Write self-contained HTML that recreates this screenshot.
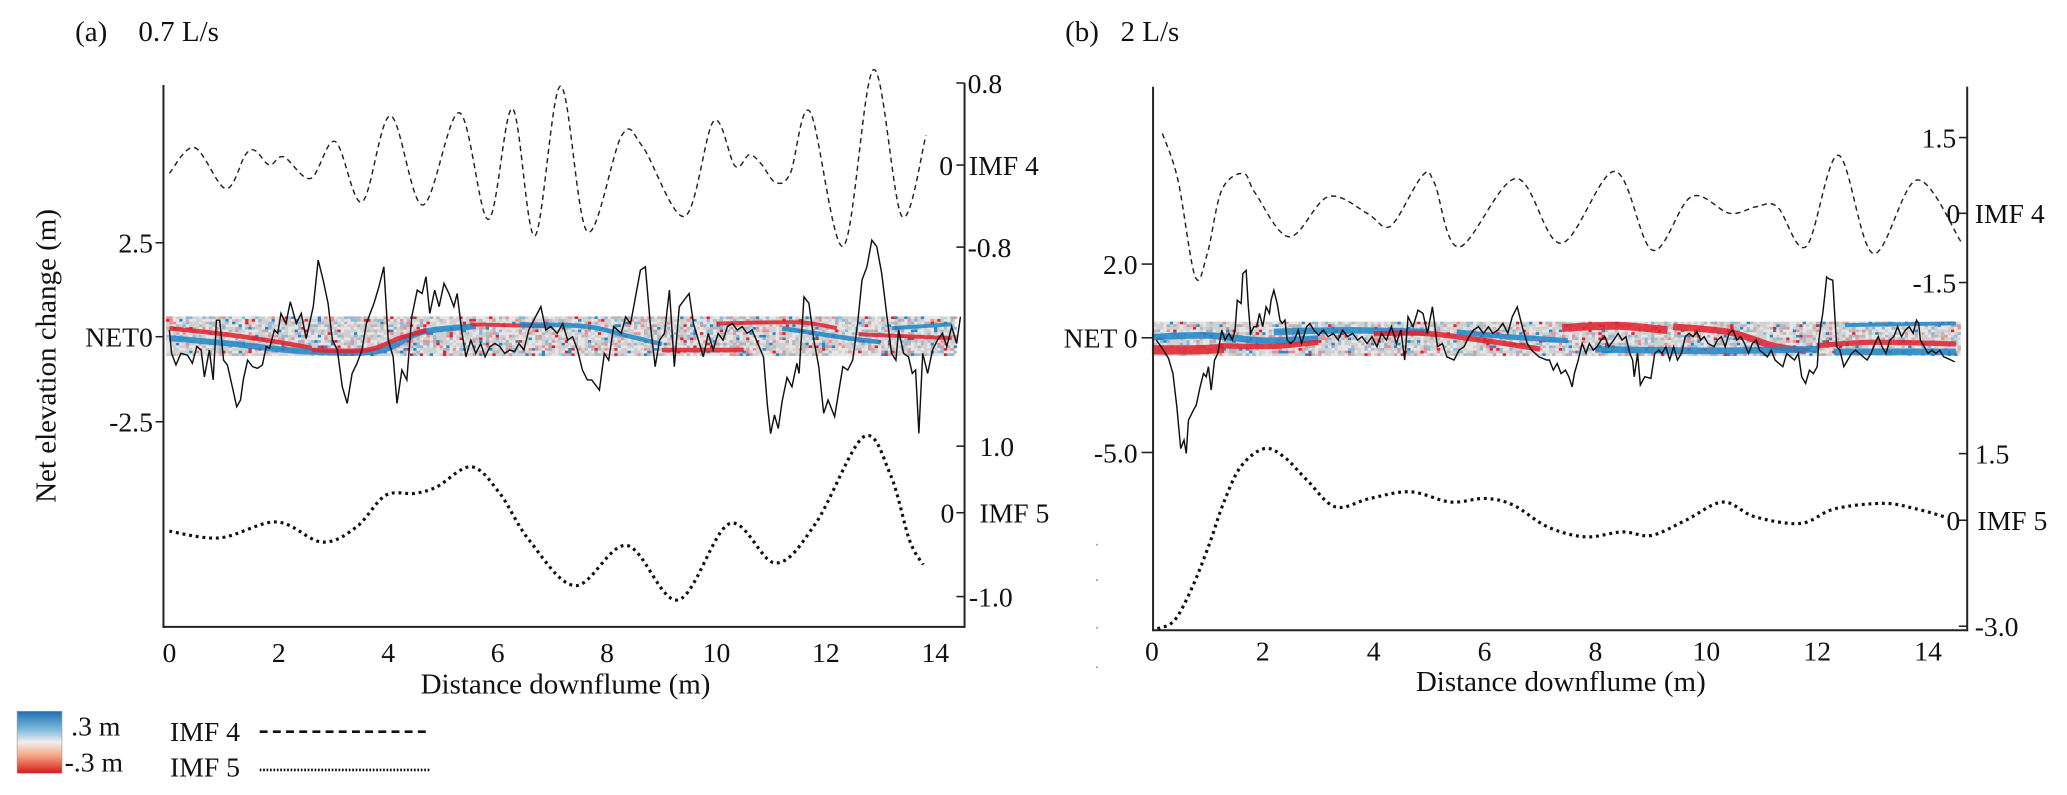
<!DOCTYPE html>
<html><head><meta charset="utf-8"><style>
html,body{margin:0;padding:0;background:#fff;}
svg{display:block;}
text{font-family:"Liberation Serif",serif;fill:#111;}
</style></head><body>
<svg id="chart" xmlns="http://www.w3.org/2000/svg" width="2067" height="795" viewBox="0 0 1568 603" preserveAspectRatio="none">
<defs>
<linearGradient id="cbar" x1="0" y1="0" x2="0" y2="1">
<stop offset="0" stop-color="#1f6fb4"/><stop offset="0.3" stop-color="#7fbcdc"/><stop offset="0.5" stop-color="#f2eeee"/><stop offset="0.72" stop-color="#f4a582"/><stop offset="1" stop-color="#d7191c"/>
</linearGradient>
</defs>
<g id="panelA">
<text x="57" y="31" font-size="22">(a)</text>
<text x="105" y="31" font-size="22">0.7 L/s</text>
<text transform="translate(42,270) rotate(-90)" text-anchor="middle" font-size="22">Net elevation change (m)</text>
<text x="429" y="526" text-anchor="middle" font-size="22">Distance downflume (m)</text>
</g>
<g id="panelB">
<text x="808" y="31" font-size="22">(b)</text>
<text x="850" y="31" font-size="22">2 L/s</text>
<text x="1184" y="524" text-anchor="middle" font-size="22">Distance downflume (m)</text>
</g>
<g id="legend">
<rect x="13" y="539.5" width="34" height="47" fill="url(#cbar)" stroke="#999" stroke-width="0.5"/>
<text x="54" y="558" font-size="21">.3 m</text>
<text x="49" y="585" font-size="21">-.3 m</text>
<text x="129" y="562" font-size="21">IMF 4</text>
<line x1="197" y1="555" x2="326" y2="555" stroke="#111" stroke-width="2" stroke-dasharray="6,4"/>
<text x="129" y="589" font-size="21">IMF 5</text>
<line x1="197" y1="584" x2="326" y2="584" stroke="#111" stroke-width="2" stroke-dasharray="1.3,1.3"/>
</g>
<g fill="#888">
<rect x="831.5" y="412.5" width="1.2" height="1.2"/><rect x="831.5" y="439.5" width="1.2" height="1.2"/><rect x="831.5" y="475.5" width="1.2" height="1.2"/><rect x="831.5" y="505.5" width="1.2" height="1.2"/>
</g>
</svg>
<script>
// ---------- Panel A data ----------
const xTicksA = [0,2,4,6,8,10,12,14];
const netTicksA = [2.5, 0, -2.5];
const netTickLabelsA = ["2.5","NET0","-2.5"];
const imf4TicksA = [0.8, 0, -0.8];
const imf4TickLabelsA = ["0.8","0","-0.8"];
const imf5TicksA = [1.0, 0, -1.0];
const imf5TickLabelsA = ["1.0","0","-1.0"];
const netADist = [0,0.04,0.12,0.21,0.33,0.42,0.50,0.58,0.64,0.73,0.80,0.86,0.92,0.99,1.06,1.15,1.23,1.30,1.35,1.43,1.52,1.61,1.70,1.77,1.83,1.92,1.98,2.04,2.13,2.21,2.32,2.41,2.50,2.63,2.72,2.81,2.90,2.98,3.07,3.16,3.25,3.34,3.43,3.52,3.60,3.74,3.83,3.92,4.00,4.09,4.16,4.25,4.34,4.43,4.53,4.62,4.69,4.76,4.85,4.93,5.02,5.11,5.20,5.26,5.35,5.42,5.51,5.60,5.69,5.77,5.86,5.95,6.04,6.13,6.22,6.31,6.39,6.48,6.57,6.66,6.79,6.88,6.97,7.09,7.19,7.28,7.37,7.46,7.55,7.64,7.72,7.86,7.95,8.03,8.12,8.26,8.34,8.43,8.52,8.61,8.70,8.79,8.88,8.96,9.05,9.14,9.23,9.32,9.41,9.50,9.58,9.67,9.76,9.85,9.94,10.03,10.12,10.20,10.29,10.38,10.47,10.56,10.65,10.78,10.86,10.93,10.99,11.06,11.13,11.20,11.29,11.38,11.47,11.51,11.60,11.69,11.78,11.87,11.96,12.04,12.16,12.22,12.31,12.40,12.49,12.58,12.66,12.75,12.84,12.93,13.02,13.11,13.20,13.28,13.33,13.42,13.51,13.58,13.64,13.70,13.77,13.86,13.95,14.04,14.13,14.21,14.30,14.39,14.46];
const netAVal = [0.18,-0.49,-0.83,-0.49,-0.54,-0.78,-0.29,-0.39,-1.18,-0.39,-1.27,0.44,0.44,-0.69,-0.83,-1.47,-2.06,-1.86,-1.27,-0.69,-0.88,-0.93,-0.83,-0.29,-0.34,0.18,0.09,0.62,0.35,0.93,0.35,0.62,-0.05,0.80,2.04,1.51,0.89,-0.10,-0.39,-1.47,-1.96,-1.08,-0.78,-0.39,0.35,0.89,1.33,1.86,-0.10,-0.59,-1.96,-0.98,-1.27,0.53,1.24,1.15,1.60,0.62,1.24,0.80,1.42,1.15,0.80,1.15,0.09,-0.59,-0.10,-0.49,-0.20,-0.59,-0.29,-0.20,-0.29,-0.49,-0.39,-0.44,-0.20,-0.39,0.18,0.44,0.80,0.18,0.27,0.09,0.35,-0.10,0.0,-0.39,-0.98,-1.27,-1.27,-1.57,-0.49,-0.69,0.27,0.09,0.53,0.35,1.06,1.77,1.86,0.35,-0.88,-0.10,0.09,1.24,-0.88,0.80,0.98,1.15,0.35,-0.10,-0.59,0.09,-0.39,0.09,-0.10,0.27,0.35,0.18,0.27,0.09,0.18,-0.29,-0.6,-2.0,-2.85,-2.3,-2.7,-1.9,-1.2,-1.47,-0.78,-1.08,1.06,0.89,-0.10,-0.88,-2.25,-1.86,-2.35,-1.76,-0.88,-0.98,-0.69,0.35,1.51,1.86,2.57,2.40,1.69,0.62,-0.49,-0.69,0.18,-0.49,-0.59,-1.08,-0.98,-2.84,-0.49,-1.08,-0.39,-0.10,0.09,-0.29,0.27,-0.20,0.53];
const imf4ADist = [0,0.46,1.03,1.39,1.57,1.83,2.09,2.58,3.03,3.52,4.04,4.63,5.30,5.83,6.27,6.68,7.15,7.64,8.27,8.65,9.42,9.95,10.34,10.60,10.82,11.08,11.35,11.71,12.32,12.87,13.39,13.83];
const imf4AVal = [-0.08,0.17,-0.23,0.10,0.14,0.0,0.08,-0.13,0.23,-0.36,0.48,-0.39,0.51,-0.53,0.55,-0.69,0.77,-0.65,0.29,0.18,-0.50,0.43,-0.01,0.10,0.01,-0.17,-0.08,0.52,-0.79,0.93,-0.50,0.29];
const imf5ADist = [0,0.92,1.96,2.79,3.42,3.95,4.48,4.89,5.52,6.04,6.58,7.42,8.36,9.30,10.24,11.08,11.81,12.69,13.18,13.53,13.78];
const imf5AVal = [-0.22,-0.30,-0.11,-0.35,-0.17,0.26,0.29,0.39,0.69,0.29,-0.33,-0.87,-0.39,-1.04,-0.13,-0.60,-0.13,1.14,0.57,-0.33,-0.62];

// ---------- Panel B data ----------
const xTicksB = [0,2,4,6,8,10,12,14];
const netTicksB = [2.0, 0, -5.0];
const netTickLabelsB = ["2.0","NET 0","-5.0"];
const imf4TicksB = [1.5, 0, -1.5];
const imf4TickLabelsB = ["1.5","0","-1.5"];
const imf5TicksB = [1.5, 0, -3.0];
const imf5TickLabelsB = ["1.5","0","-3.0"];
const netBDist = [0.08,0.21,0.30,0.38,0.45,0.52,0.58,0.62,0.66,0.75,0.80,0.87,0.93,0.98,1.02,1.07,1.13,1.19,1.26,1.32,1.39,1.45,1.50,1.54,1.61,1.64,1.70,1.74,1.78,1.84,1.89,1.94,2.00,2.06,2.12,2.15,2.20,2.26,2.31,2.35,2.40,2.44,2.50,2.57,2.64,2.70,2.79,2.85,2.92,3.01,3.09,3.18,3.27,3.36,3.44,3.53,3.62,3.71,3.79,3.88,3.97,4.06,4.14,4.23,4.32,4.41,4.49,4.56,4.62,4.71,4.80,4.89,4.97,5.06,5.15,5.24,5.32,5.45,5.54,5.63,5.72,5.80,5.89,5.98,6.07,6.15,6.24,6.33,6.42,6.50,6.59,6.68,6.77,6.85,6.98,7.12,7.17,7.24,7.31,7.38,7.46,7.52,7.58,7.62,7.69,7.76,7.83,7.89,7.96,8.03,8.10,8.17,8.24,8.31,8.41,8.48,8.55,8.62,8.67,8.70,8.76,8.81,8.89,9.00,9.07,9.14,9.20,9.27,9.34,9.41,9.48,9.55,9.62,9.69,9.76,9.83,9.90,9.96,10.03,10.14,10.20,10.27,10.34,10.41,10.48,10.55,10.62,10.69,10.76,10.83,10.90,10.96,11.03,11.10,11.17,11.24,11.31,11.38,11.45,11.52,11.59,11.66,11.72,11.79,11.86,11.93,12.00,12.03,12.07,12.10,12.14,12.17,12.20,12.28,12.35,12.41,12.48,12.55,12.62,12.69,12.76,12.83,12.90,12.97,13.04,13.10,13.17,13.24,13.31,13.38,13.45,13.52,13.59,13.66,13.73,13.79,13.83,13.86,13.93,14.00,14.07,14.14,14.21,14.28,14.35,14.41,14.48];
const netBVal = [-0.10,-0.54,-0.90,-1.56,-3.01,-4.83,-4.46,-5.04,-3.59,-3.15,-2.94,-2.14,-1.56,-1.70,-1.26,-2.28,-0.97,-0.68,0.21,-0.10,0.12,-0.10,0.21,1.02,0.93,1.74,1.83,0.84,0.12,0.30,0.30,0.66,0.30,0.84,0.66,1.02,1.29,0.93,0.48,0.39,0.48,-0.10,-0.25,-0.10,0.21,-0.25,0.30,0.39,0.21,0.07,0.21,0.03,0.12,-0.10,0.21,0.03,0.12,-0.10,0.03,-0.25,0.03,-0.39,0.12,-0.10,0.30,-0.25,0.21,-0.97,0.57,0.30,0.75,0.66,0.12,0.84,-0.39,-0.25,-0.83,-0.97,-0.54,-0.39,0.03,0.21,0.30,0.12,0.30,0.12,0.21,0.39,0.12,0.57,0.84,0.30,-0.25,-0.54,-0.83,-0.97,-0.97,-1.41,-1.12,-1.56,-1.41,-1.70,-2.14,-1.56,-0.97,-0.25,-0.68,-0.25,-0.54,-0.39,-0.10,0.03,-0.39,-0.17,0.12,-0.10,0.03,-0.68,-0.97,-1.70,-0.68,-2.06,-1.70,-1.77,-0.68,-0.54,-0.68,-0.39,-0.97,-0.39,-0.97,-0.68,0.03,0.12,0.03,0.16,-0.10,0.03,-0.25,-0.39,-0.10,0.03,-0.39,0.12,0.21,-0.10,0.03,-0.25,-0.68,-0.25,-0.10,-0.54,-0.68,-0.83,-0.54,-0.97,-1.12,-1.26,-0.68,-0.83,-0.97,-0.68,-1.70,-1.99,-1.41,-1.56,-1.26,-0.10,0.39,0.66,1.20,1.65,1.61,1.56,-0.39,-0.54,-1.26,-0.97,-0.68,-0.54,-0.68,-0.83,-0.97,-0.68,-0.25,0.03,-0.39,-0.68,-0.10,0.03,0.30,0.03,0.21,0.30,0.12,0.48,0.39,-0.10,-0.39,-0.68,-0.54,-0.68,-0.54,-0.83,-0.90,-0.97,-1.05];
const imf4BDist = [0.19,0.47,0.78,1.00,1.26,1.65,1.87,2.48,3.18,3.88,4.19,4.40,4.89,5.10,5.54,6.57,7.38,8.35,9.03,9.73,10.42,10.90,11.28,11.80,12.38,13.01,13.80,14.59];
const imf4BVal = [1.58,0.66,-1.37,-0.87,0.46,0.79,0.39,-0.51,0.33,0.0,-0.29,-0.15,0.76,0.59,-0.73,0.69,-0.65,0.83,-0.80,0.33,0.0,0.13,0.13,-0.72,1.15,-0.87,0.66,-0.61];
const imf5BDist = [0.10,0.41,0.73,1.04,1.29,1.60,2.02,2.38,2.80,3.31,3.93,4.66,5.39,6.01,6.52,7.14,7.82,8.49,9.01,9.63,10.30,10.87,11.70,12.32,13.20,13.77,14.29];
const imf5BVal = [-3.07,-2.83,-1.89,-0.66,0.38,1.20,1.61,1.43,0.90,0.30,0.49,0.64,0.41,0.49,0.34,-0.19,-0.47,-0.33,-0.43,0.0,0.41,0.08,-0.09,0.26,0.38,0.26,0.08];

// ---------- scales ----------
const xA = m => 128.5 + m * 41.5;
const netAY = v => v >= 0 ? 255.4 - v * 28.5 : 255.4 - v * 25.8;
const imf4AY = v => 125.2 - v * 77.8;
const imf5AY = v => v >= 0 ? 388.9 - v * 50.5 : 388.9 - v * 63.6;
const xB = m => 873.8 + m * 42.06;
const netBY = v => v >= 0 ? 256.2 - v * 27.95 : 256.2 - v * 17.4;
const imf4BY = v => v >= 0 ? 161.8 - v * 38.3 : 161.8 - v * 35;
const imf5BY = v => v >= 0 ? 394.6 - v * 33.7 : 394.6 - v * 26.8;

const NS = "http://www.w3.org/2000/svg";
const svg = document.getElementById('chart');
function make(tag, attrs, parent) {
  const e = document.createElementNS(NS, tag);
  for (const k in attrs) e.setAttribute(k, attrs[k]);
  (parent || svg).appendChild(e);
  return e;
}
function pts(dist, val, xs, ys) {
  const n = Math.min(dist.length, val.length); const p = [];
  for (let i = 0; i < n; i++) p.push([xs(dist[i]), ys(val[i])]);
  return p;
}
function linePath(p) { return p.map((q, i) => (i ? 'L' : 'M') + q[0].toFixed(2) + ',' + q[1].toFixed(2)).join(''); }
function smoothPath(p) {
  let d = 'M' + p[0][0].toFixed(2) + ',' + p[0][1].toFixed(2);
  for (let i = 0; i < p.length - 1; i++) {
    const p0 = p[i - 1] || p[i], p1 = p[i], p2 = p[i + 1], p3 = p[i + 2] || p2;
    const c1 = [p1[0] + (p2[0] - p0[0]) / 6, p1[1] + (p2[1] - p0[1]) / 6];
    const c2 = [p2[0] - (p3[0] - p1[0]) / 6, p2[1] - (p3[1] - p1[1]) / 6];
    d += 'C' + c1[0].toFixed(2) + ',' + c1[1].toFixed(2) + ' ' + c2[0].toFixed(2) + ',' + c2[1].toFixed(2) + ' ' + p2[0].toFixed(2) + ',' + p2[1].toFixed(2);
  }
  return d;
}

// ---------- heat bands (decorative texture) ----------
function hash(i, j, s) { const v = Math.sin(i * 127.1 + j * 311.7 + s * 74.7) * 43758.5453; return v - Math.floor(v); }
function band(x0, x1, y0, y1, xs, streaks, seed, name) {
  const g = make('g', {});
  
  
  make('rect', {x: x0, y: y0, width: x1 - x0, height: y1 - y0, fill: '#d0d0d0'}, g);
  const cw = 2.5, ch = 2;
  for (let i = 0; x0 + i * cw < x1; i++) for (let j = 0; y0 + j * ch < y1 - 0.5; j++) {
    const h = hash(i, j, seed); let c = null;
    if (h < 0.3) c = '#e6e6e6'; else if (h < 0.42) c = '#b8b8b8'; else if (h < 0.48) c = '#ee8c92'; else if (h < 0.55) c = '#86b9dd'; else if (h < 0.58) c = '#e3202d'; else if (h < 0.62) c = '#2a86c7';
    if (c) make('rect', {x: x0 + i * cw, y: y0 + j * ch, width: cw, height: ch, fill: c}, g);
  }
  streaks.forEach(s => {
    const p = s.pts.map(q => [xs(q[0]), y0 + q[1] * (y1 - y0)]);
    make('path', {d: smoothPath(p), fill: 'none', stroke: s.c, 'stroke-width': s.w, opacity: 0.85}, g);
  });
}
const R = '#e3202d', B = '#1f86c8';
band(xA(-0.06), 724.5, 240, 270, xA, [
  {c: R, w: 3.5, pts: [[0,0.3],[1,0.45],[2,0.65],[2.6,0.8]]},
  {c: B, w: 4.5, pts: [[0,0.55],[1.2,0.7],[2.4,0.88],[3.8,0.88],[4.6,0.4],[5.6,0.25]]},
  {c: R, w: 3.5, pts: [[2.6,0.85],[3.6,0.85],[4.2,0.55],[4.7,0.35]]},
  {c: R, w: 3, pts: [[5.5,0.2],[7,0.25]]},
  {c: B, w: 3.5, pts: [[6.4,0.2],[7.6,0.25],[8.4,0.5],[9.0,0.7]]},
  {c: R, w: 3.5, pts: [[9,0.85],[10.5,0.85]]},
  {c: R, w: 3, pts: [[10,0.18],[11.5,0.15],[12.2,0.3]]},
  {c: B, w: 3.5, pts: [[11.2,0.3],[12.4,0.55],[13,0.65]]},
  {c: R, w: 3, pts: [[12.6,0.45],[14.3,0.55]]},
  {c: B, w: 3, pts: [[13.2,0.3],[14.3,0.2]]}
], 1, 'heat-band-a');
band(875, 1487, 244, 270, xB, [
  {c: R, w: 7, pts: [[0,0.82],[0.8,0.82],[1.3,0.78]]},
  {c: B, w: 5, pts: [[0,0.45],[1,0.4],[2,0.55],[3,0.5]]},
  {c: R, w: 4, pts: [[1.2,0.7],[2.2,0.72],[3,0.6]]},
  {c: B, w: 5, pts: [[2.2,0.3],[3.5,0.25],[5,0.3]]},
  {c: R, w: 4, pts: [[4,0.35],[5,0.35],[6.2,0.6],[7,0.8]]},
  {c: B, w: 4, pts: [[5.5,0.3],[6.5,0.45],[7.5,0.55]]},
  {c: R, w: 6, pts: [[7.4,0.18],[8.4,0.12],[9.3,0.25]]},
  {c: R, w: 5, pts: [[9.4,0.15],[10.4,0.3],[11.2,0.7],[11.8,0.85]]},
  {c: B, w: 5, pts: [[8,0.8],[10,0.85],[12,0.8]]},
  {c: R, w: 4, pts: [[12,0.7],[13,0.6],[14.5,0.65]]},
  {c: B, w: 5, pts: [[12.3,0.88],[14.5,0.88]]},
  {c: B, w: 3, pts: [[12.5,0.1],[14.5,0.05]]}
], 2, 'heat-band-b');

// ---------- axes ----------
function axisLine(x1, y1, x2, y2, name) {
  const l = make('line', {x1, y1, x2, y2, stroke: '#222', 'stroke-width': 1.5});
  
  
}
axisLine(124, 64.5, 124, 476.2, 'left-axis-a');
axisLine(123.3, 475.5, 731.7, 475.5, 'x-axis-a');
axisLine(731.7, 63, 731.7, 476.2, 'right-axis-a');
axisLine(874.7, 65.8, 874.7, 478.7, 'left-axis-b');
axisLine(874, 478, 1493, 478, 'x-axis-b');
axisLine(1492.3, 65.7, 1492.3, 478.7, 'right-axis-b');

function label(x, y, txt, anchor, name, size) {
  const t = make('text', {x, y, 'text-anchor': anchor, 'font-size': size || 21});
  t.textContent = txt;
  
  
  return t;
}
function tick(x1, x2, y, name) {
  const l = make('line', {x1, y1: y, x2, y2: y, stroke: '#222', 'stroke-width': 1.2});
  
  
}
xTicksA.forEach(v => label(xA(v), 502, String(v), 'middle', 'x-tick-label-a'));
xTicksB.forEach(v => label(xB(v), 501, String(v), 'middle', 'x-tick-label-b'));
netTicksA.forEach((v, i) => { const y = netAY(v); tick(118, 124, y, 'y-tick-a'); label(116, y + 7.5, netTickLabelsA[i], 'end', 'y-tick-label-a'); });
netTicksB.forEach((v, i) => { const y = netBY(v); tick(866, 874.7, y, 'y-tick-b'); label(863, y + 7.5, netTickLabelsB[i], 'end', 'y-tick-label-b'); });
imf4TicksA.forEach((v, i) => { const y = imf4AY(v); tick(725.5, 731.7, y, 'imf4-tick-a');
  if (v === 0) { label(723, y + 7.5, '0', 'end', 'imf4-tick-label-a'); label(735, y + 7.5, 'IMF 4', 'start', 'imf4-axis-title-a'); }
  else label(734, y + 7.5, imf4TickLabelsA[i], 'start', 'imf4-tick-label-a'); });
imf5TicksA.forEach((v, i) => { const y = imf5AY(v); tick(725.5, 731.7, y, 'imf5-tick-a');
  if (v === 0) { label(724, y + 7.5, '0', 'end', 'imf5-tick-label-a'); label(743, y + 7.5, 'IMF 5', 'start', 'imf5-axis-title-a'); }
  else label(v > 0 ? 743 : 735, y + 7.5, imf5TickLabelsA[i], 'start', 'imf5-tick-label-a'); });
imf4TicksB.forEach((v, i) => { const y = imf4BY(v); tick(1486, 1492.3, y, 'imf4-tick-b');
  if (v === 0) { label(1487, y + 7.5, '0', 'end', 'imf4-tick-label-b'); label(1498, y + 7.5, 'IMF 4', 'start', 'imf4-axis-title-b'); }
  else label(1484, y + 7.5, imf4TickLabelsB[i], 'end', 'imf4-tick-label-b'); });
imf5TicksB.forEach((v, i) => { const y = imf5BY(v); tick(1486, 1492.3, y, 'imf5-tick-b');
  if (v === 0) { label(1487, y + 7.5, '0', 'end', 'imf5-tick-label-b'); label(1500, y + 7.5, 'IMF 5', 'start', 'imf5-axis-title-b'); }
  else label(1498, y + 7.5, imf5TickLabelsB[i], 'start', 'imf5-tick-label-b'); });

// ---------- series ----------
function series(d, style, name) {
  const p = make('path', Object.assign({d, fill: 'none'}, style));
  
  
}
const dashed = {stroke: '#222', 'stroke-width': 1.1, 'stroke-dasharray': '4,3'};
const dotted = {stroke: '#111', 'stroke-width': 2.4, 'stroke-dasharray': '2.2,2.9'};
const solid = {stroke: '#111', 'stroke-width': 1.1, 'stroke-linejoin': 'miter'};
series(smoothPath(pts(imf4ADist, imf4AVal, xA, imf4AY)), dashed, 'imf4-line-a');
series(smoothPath(pts(imf5ADist, imf5AVal, xA, imf5AY)), dotted, 'imf5-line-a');
series(linePath(pts(netADist, netAVal, xA, netAY)), solid, 'net-line-a');
series(smoothPath(pts(imf4BDist, imf4BVal, xB, imf4BY)), dashed, 'imf4-line-b');
series(smoothPath(pts(imf5BDist, imf5BVal, xB, imf5BY)), dotted, 'imf5-line-b');
series(linePath(pts(netBDist, netBVal, xB, netBY)), solid, 'net-line-b');
</script>
</body></html>
